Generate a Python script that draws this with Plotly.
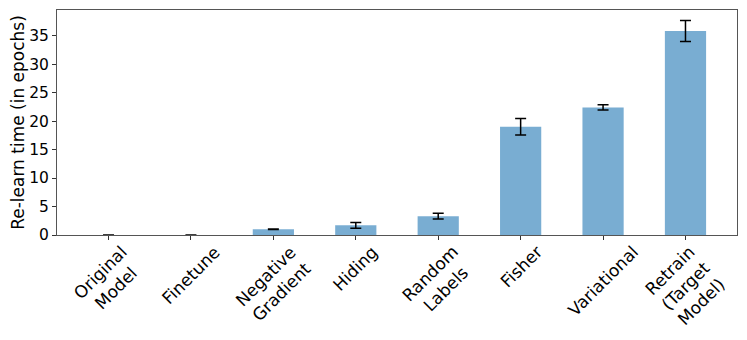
import plotly.graph_objects as go

methods = ['Original<br>Model', 'Finetune', 'Negative<br>Gradient', 'Hiding', 'Random<br>Labels',
           'Fisher', 'Variational', 'Retrain<br>(Target<br>Model)']
relearn = [0.0, 0.0, 1.0, 1.7, 3.3, 19.0, 22.4, 35.8]
relearn_err = [0.0, 0.0, 0.05, 0.5, 0.5, 1.45, 0.45, 1.85]

x = list(range(len(methods)))

fig = go.Figure()
fig.add_trace(go.Bar(x=x, y=relearn, width=0.5,
                     marker=dict(color='rgba(31,119,180,0.6)', line=dict(width=0)),
                     error_y=dict(type='data', array=relearn_err, color='black',
                                  thickness=1.5, width=5.5)))

# matplotlib-style centred rotated tick labels
for i, m in enumerate(methods):
    fig.add_annotation(x=i, y=0, xref='x', yref='paper', text=m, showarrow=False,
                       textangle=-45, xanchor='center', yanchor='top', yshift=-4,
                       align='center', font=dict(size=17, color='black'))

# page body has an 8px margin, so the figure is a bit smaller than the window
fig.update_layout(width=739, height=332, plot_bgcolor='white', paper_bgcolor='white',
                  margin=dict(l=49, r=10, t=2, b=105, autoexpand=False), showlegend=False,
                  font=dict(family='DejaVu Sans', size=15.5, color='black'))
fig.update_xaxes(range=[-0.625, 7.625], tickvals=x, ticktext=['']*len(x), ticks='outside',
                 ticklen=4, tickcolor='#333', showline=True, linecolor='#555', mirror=True,
                 showgrid=False, zeroline=False, automargin=False)
fig.update_yaxes(range=[0, 39.5], tickvals=[0, 5, 10, 15, 20, 25, 30, 35], ticks='outside',
                 ticklen=4, tickcolor='#333', showline=True, linecolor='#555', mirror=True,
                 showgrid=False, zeroline=False, automargin=False,
                 title=dict(text='Re-learn time (in epochs)', font=dict(size=17), standoff=6))
fig.write_html("out.html")
